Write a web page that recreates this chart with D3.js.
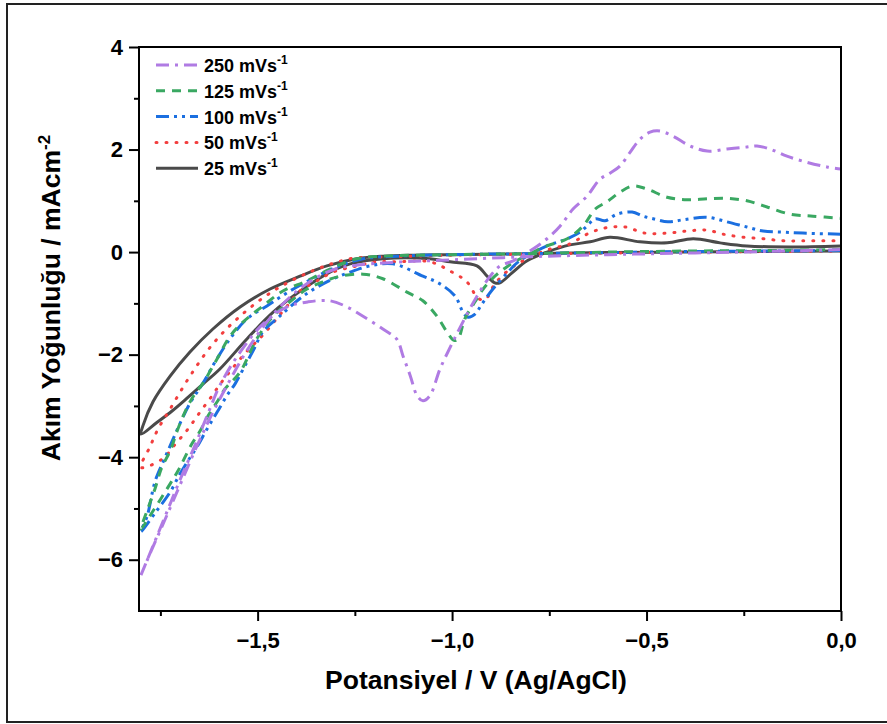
<!DOCTYPE html>
<html>
    <head>
        <meta charset="utf-8">
        <title>CV scan rates</title>
        <script src="https://cdn.jsdelivr.net/npm/d3@7"></script>
        <style>
            body {
                margin: 0;
                background: #fff;
            }
            svg {
                display: block;
            }
            text {
                font-family: 'Liberation Sans', Arial, sans-serif;
                font-weight: bold;
            }
        </style>
    </head>
    <body>
        <script>
            // [potential (V), current density (mA cm-2)], forward sweep then reverse
            const cv25 = [
                [0, 0.02], [-0.2, 0.01], [-0.4, 0.0], [-0.6, -0.01], [-0.8, -0.03], [-1.0, -0.05], [-1.1, -0.06],
                [-1.178, -0.08], [-1.245, -0.13], [-1.322, -0.27], [-1.391, -0.47], [-1.468, -0.72], [-1.545, -1.07],
                [-1.615, -1.5], [-1.674, -1.95], [-1.725, -2.42], [-1.769, -2.92], [-1.795, -3.39], [-1.8, -3.55],
                [-1.76, -3.33], [-1.72, -3.1], [-1.68, -2.84], [-1.64, -2.57], [-1.597, -2.28], [-1.527, -1.69],
                [-1.46, -1.17], [-1.383, -0.72], [-1.314, -0.39], [-1.262, -0.23], [-1.178, -0.13], [-1.057, -0.13],
                [-1.005, -0.19], [-0.936, -0.27], [-0.91, -0.47], [-0.89, -0.6], [-0.877, -0.6], [-0.845, -0.4],
                [-0.807, -0.17], [-0.756, 0.0], [-0.697, 0.14], [-0.645, 0.2], [-0.594, 0.29], [-0.517, 0.2],
                [-0.447, 0.18], [-0.38, 0.26], [-0.311, 0.18], [-0.242, 0.12], [-0.131, 0.1], [0, 0.12]
            ];
            const cv50 = [
                [0, 0.02], [-0.2, 0.01], [-0.4, 0.0], [-0.6, -0.02], [-0.8, -0.04], [-1.0, -0.06], [-1.1, -0.08],
                [-1.203, -0.1], [-1.262, -0.13], [-1.36, -0.37], [-1.46, -0.76], [-1.545, -1.25], [-1.615, -1.79],
                [-1.674, -2.42], [-1.725, -3.06], [-1.756, -3.45], [-1.777, -3.8], [-1.8, -4.2],
                [-1.746, -4.04], [-1.712, -3.75], [-1.679, -3.45], [-1.648, -3.12], [-1.617, -2.8], [-1.592, -2.53],
                [-1.527, -1.93], [-1.489, -1.64], [-1.424, -1.05], [-1.391, -0.76], [-1.347, -0.56], [-1.306, -0.39],
                [-1.245, -0.27], [-1.193, -0.19], [-1.142, -0.19], [-1.057, -0.19], [-1.005, -0.37], [-0.962, -0.58],
                [-0.933, -0.9], [-0.915, -0.93], [-0.89, -0.62], [-0.851, -0.33], [-0.8, -0.1], [-0.748, 0.06],
                [-0.697, 0.16], [-0.653, 0.35], [-0.607, 0.47], [-0.555, 0.49], [-0.504, 0.37], [-0.447, 0.37],
                [-0.396, 0.41], [-0.345, 0.43], [-0.303, 0.35], [-0.252, 0.29], [-0.2, 0.26], [-0.149, 0.22],
                [-0.098, 0.22], [0, 0.22]
            ];
            const cv100 = [
                [0, 0.03], [-0.2, 0.02], [-0.4, 0.01], [-0.6, -0.01], [-0.8, -0.03], [-1.0, -0.05], [-1.142, -0.08],
                [-1.229, -0.13], [-1.296, -0.29], [-1.347, -0.47], [-1.417, -0.76], [-1.476, -1.05], [-1.527, -1.3],
                [-1.571, -1.69], [-1.61, -2.15], [-1.64, -2.55], [-1.674, -2.95], [-1.7, -3.35], [-1.725, -3.78],
                [-1.743, -4.09], [-1.764, -4.48], [-1.784, -5.15], [-1.8, -5.45],
                [-1.76, -5.05], [-1.725, -4.68], [-1.7, -4.33], [-1.679, -4.07], [-1.656, -3.8], [-1.63, -3.45],
                [-1.604, -3.12], [-1.579, -2.8], [-1.558, -2.57], [-1.537, -2.28], [-1.51, -1.9], [-1.486, -1.55],
                [-1.443, -1.25], [-1.383, -0.86], [-1.322, -0.58], [-1.262, -0.39], [-1.211, -0.27], [-1.152, -0.23],
                [-1.075, -0.47], [-1.031, -0.62], [-0.992, -0.86], [-0.972, -1.17], [-0.959, -1.27], [-0.941, -1.21],
                [-0.923, -1.01], [-0.895, -0.72], [-0.856, -0.39], [-0.83, -0.19], [-0.756, 0.12], [-0.704, 0.26],
                [-0.671, 0.39], [-0.653, 0.51], [-0.632, 0.65], [-0.607, 0.61], [-0.576, 0.74], [-0.537, 0.78],
                [-0.509, 0.7], [-0.483, 0.65], [-0.445, 0.59], [-0.406, 0.63], [-0.345, 0.68], [-0.293, 0.59],
                [-0.242, 0.49], [-0.2, 0.41], [-0.149, 0.39], [-0.098, 0.37], [0, 0.35]
            ];
            const cv125 = [
                [0, 0.05], [-0.2, 0.03], [-0.4, 0.02], [-0.6, 0.0], [-0.8, -0.03], [-1.0, -0.05], [-1.178, -0.08],
                [-1.245, -0.13], [-1.314, -0.33], [-1.373, -0.56], [-1.435, -0.76], [-1.486, -1.05], [-1.537, -1.36],
                [-1.571, -1.64], [-1.604, -2.08], [-1.64, -2.55], [-1.666, -2.82], [-1.687, -3.12], [-1.707, -3.49],
                [-1.725, -3.88], [-1.746, -4.19], [-1.764, -4.62], [-1.782, -5.0], [-1.8, -5.4],
                [-1.769, -5.05], [-1.725, -4.52], [-1.705, -4.27], [-1.669, -3.74], [-1.648, -3.49], [-1.628, -3.2],
                [-1.604, -2.92], [-1.584, -2.67], [-1.545, -2.34], [-1.502, -1.69], [-1.46, -1.25], [-1.417, -0.97],
                [-1.373, -0.72], [-1.332, -0.58], [-1.288, -0.47], [-1.229, -0.43], [-1.178, -0.52], [-1.116, -0.78],
                [-1.075, -0.95], [-1.039, -1.25], [-1.013, -1.56], [-0.995, -1.72], [-0.985, -1.7], [-0.967, -1.3],
                [-0.941, -0.97], [-0.92, -0.72], [-0.89, -0.47], [-0.856, -0.27], [-0.818, -0.1], [-0.756, 0.12],
                [-0.704, 0.26], [-0.663, 0.51], [-0.632, 0.84], [-0.602, 0.98], [-0.568, 1.17], [-0.535, 1.29],
                [-0.499, 1.23], [-0.447, 1.07], [-0.396, 1.02], [-0.344, 1.04], [-0.293, 1.05], [-0.242, 1.0],
                [-0.19, 0.88], [-0.131, 0.74], [-0.072, 0.7], [0, 0.66]
            ];
            const cv250 = [
                [0, 0.05], [-0.2, 0.01], [-0.4, -0.02], [-0.6, -0.05], [-0.8, -0.09], [-1.0, -0.15], [-1.15, -0.2],
                [-1.25, -0.26], [-1.3, -0.33], [-1.36, -0.55], [-1.42, -0.9], [-1.48, -1.4], [-1.53, -1.95],
                [-1.575, -2.55], [-1.62, -3.2], [-1.66, -3.85], [-1.7, -4.55], [-1.74, -5.25], [-1.775, -5.85], [-1.8, -6.3],
                [-1.77, -5.75], [-1.735, -5.1], [-1.7, -4.45], [-1.66, -3.75], [-1.625, -3.1], [-1.597, -2.6],
                [-1.545, -1.95], [-1.486, -1.4], [-1.424, -1.07], [-1.37, -0.97], [-1.314, -0.95], [-1.27, -1.07],
                [-1.229, -1.25], [-1.178, -1.5], [-1.142, -1.7], [-1.126, -2.03], [-1.108, -2.4], [-1.09, -2.8],
                [-1.075, -2.9], [-1.057, -2.8], [-1.031, -2.28], [-0.998, -1.75], [-0.972, -1.36], [-0.936, -0.86],
                [-0.902, -0.47], [-0.877, -0.27], [-0.843, -0.17], [-0.8, 0.02], [-0.756, 0.26], [-0.722, 0.51],
                [-0.689, 0.84], [-0.653, 1.09], [-0.62, 1.42], [-0.594, 1.54], [-0.568, 1.68], [-0.542, 1.95],
                [-0.517, 2.2], [-0.491, 2.34], [-0.465, 2.36], [-0.432, 2.26], [-0.388, 2.07], [-0.344, 1.97],
                [-0.293, 2.01], [-0.242, 2.05], [-0.216, 2.07], [-0.183, 2.01], [-0.139, 1.87], [-0.087, 1.75],
                [-0.036, 1.66], [0, 1.62]
            ];

            const scanLabels = ['250', '125', '100', '50', '25'];
            const xMajor = [-1.5, -1.0, -0.5, 0];
            const xMinor = [-1.75, -1.25, -0.75, -0.25];
            const yMajor = [-6, -4, -2, 0, 2, 4];
            const yMinor = [-5, -3, -1, 1, 3];

            const series = [
                { label: '250', data: cv250, color: '#b07be3', dash: '13,6,3,6' },
                { label: '125', data: cv125, color: '#3aa862', dash: '9,7' },
                { label: '100', data: cv100, color: '#1b6fe0', dash: '13,5,3,5,3,5' },
                { label: '50', data: cv50, color: '#f23e3e', dash: '1,9' },
                { label: '25', data: cv25, color: '#4a4a4a', dash: null }
            ];

            const width = 887;
            const height = 724;
            const margin = { left: 139, top: 47, right: 46, bottom: 113 };

            const svg = d3.select('body').append('svg').attr('width', width).attr('height', height);

            // outer frame (right edge is cut off)
            svg.append('path')
                .attr('d', `M${width},4 H7 V722 H${width}`)
                .attr('fill', 'none')
                .attr('stroke', '#222')
                .attr('stroke-width', 2);

            const x = d3.scaleLinear().domain([-1.805, 0]).range([margin.left, width - margin.right]);
            const y = d3.scaleLinear().domain([-7, 4]).range([height - margin.bottom, margin.top]);

            const fmt = (d) => (d < 0 ? '\u2212' : '') + d3.format('.1f')(Math.abs(d)).replace('.', ',');

            svg.append('clipPath').attr('id', 'clip')
                .append('rect')
                .attr('x', x.range()[0]).attr('y', y.range()[1])
                .attr('width', x.range()[1] - x.range()[0])
                .attr('height', y.range()[0] - y.range()[1]);

            const line = d3.line()
                .x((d) => x(d[0]))
                .y((d) => y(d[1]))
                .curve(d3.curveCatmullRom.alpha(0.5));

            const plot = svg.append('g').attr('clip-path', 'url(#clip)');
            series.slice().reverse().forEach((s) => {
                plot.append('path')
                    .datum(s.data)
                    .attr('d', line)
                    .attr('fill', 'none')
                    .attr('stroke', s.color)
                    .attr('stroke-width', 3)
                    .attr('stroke-linecap', s.label === '50' ? 'round' : 'butt')
                    .attr('stroke-dasharray', s.dash);
            });

            // axes
            svg.append('g').attr('transform', `translate(0,${y.range()[0]})`)
                .call(d3.axisBottom(x).tickValues(xMajor).tickFormat(fmt).tickSize(10).tickSizeOuter(0).tickPadding(11));
            svg.append('g').attr('transform', `translate(0,${y.range()[0]})`)
                .call(d3.axisBottom(x).tickValues(xMinor).tickFormat('').tickSize(5).tickSizeOuter(0));
            svg.append('g').attr('transform', `translate(${x.range()[0]},0)`)
                .call(d3.axisLeft(y).tickValues(yMajor).tickFormat((d) => (d < 0 ? '\u2212' + -d : d)).tickSize(10).tickSizeOuter(0).tickPadding(6));
            svg.append('g').attr('transform', `translate(${x.range()[0]},0)`)
                .call(d3.axisLeft(y).tickValues(yMinor).tickFormat('').tickSize(5).tickSizeOuter(0));

            svg.selectAll('.tick line').attr('stroke', '#000').attr('stroke-width', 2);
            svg.selectAll('.domain').remove();
            svg.selectAll('.tick text').attr('font-size', 22).attr('fill', '#000')
                .style('font-family', "'Liberation Sans', Arial, sans-serif").style('font-weight', 'bold');

            svg.append('rect')
                .attr('x', x.range()[0]).attr('y', y.range()[1])
                .attr('width', x.range()[1] - x.range()[0])
                .attr('height', y.range()[0] - y.range()[1])
                .attr('fill', 'none')
                .attr('stroke', '#000')
                .attr('stroke-width', 2);

            // axis titles
            svg.append('text')
                .attr('x', 476)
                .attr('y', 689)
                .attr('text-anchor', 'middle')
                .attr('font-size', 26.5)
                .text('Potansiyel / V (Ag/AgCl)');

            const yt = svg.append('text')
                .attr('transform', 'translate(60,298) rotate(-90)')
                .attr('text-anchor', 'middle')
                .attr('font-size', 26.5);
            yt.append('tspan').text('Akım Yoğunluğu / mAcm');
            yt.append('tspan').attr('dy', -10).attr('font-size', 17).text('-2');

            // legend
            const legend = svg.append('g').attr('transform', 'translate(156,65)');
            series.forEach((s, i) => {
                const g = legend.append('g').attr('transform', `translate(0,${i * 25.8})`);
                g.append('line')
                    .attr('x1', 0).attr('x2', 42).attr('y1', 0).attr('y2', 0)
                    .attr('stroke', s.color)
                    .attr('stroke-width', 3)
                    .attr('stroke-linecap', s.label === '50' ? 'round' : 'butt')
                    .attr('stroke-dasharray', s.dash);
                const t = g.append('text').attr('x', 48).attr('y', 7).attr('font-size', 18);
                t.append('tspan').text(`${scanLabels[i]} mVs`);
                t.append('tspan').attr('dy', -8).attr('font-size', 12).text('-1');
            });
        </script>
    </body>
</html>
